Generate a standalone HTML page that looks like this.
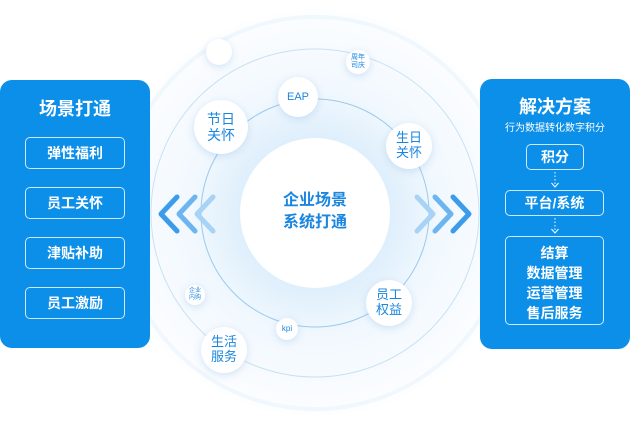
<!DOCTYPE html><html><head><meta charset="utf-8"><style>
body{margin:0;width:630px;height:428px;background:#fff;position:relative;overflow:hidden;font-family:"Liberation Sans","Noto Sans CJK SC",sans-serif}
.p{position:absolute;background:#0b8fe9;border-radius:12px;color:#fff}
.b{position:absolute;border:1px solid rgba(255,255,255,.8);border-radius:5px;color:#fff;text-align:center;font-weight:bold;font-size:14px;box-sizing:border-box}
.t{position:absolute;text-align:center;color:#1a86e0;font-weight:bold}
.c{position:absolute;border-radius:50%;background:#fff;box-shadow:0 2px 8px rgba(120,170,220,.3);display:flex;align-items:center;justify-content:center;color:#1a86e0;text-align:center;line-height:1.15}
</style></head><body>
<svg width="630" height="428" style="position:absolute;left:0;top:0">
<defs><radialGradient id="g" cx="315" cy="213" r="205" gradientUnits="userSpaceOnUse">
<stop offset="0.35" stop-color="#ddeefb"/><stop offset="0.6" stop-color="#f1f8fe"/><stop offset="0.95" stop-color="#fbfdff"/><stop offset="1" stop-color="#ffffff"/></radialGradient></defs>
<circle cx="315" cy="213" r="205" fill="url(#g)"/>
<circle cx="315" cy="213" r="196" fill="none" stroke="#f0f7fd" stroke-width="4"/>
<circle cx="315" cy="213" r="164" fill="none" stroke="#c8e1f6" stroke-width="1"/>
<circle cx="315" cy="213" r="114" fill="none" stroke="#9cc9ef" stroke-width="1"/>
<circle cx="315" cy="213" r="75" fill="#fff"/>
<g fill="none" stroke-linecap="round" stroke-linejoin="round" stroke-width="5">
<polyline points="177,197 161,214 177,231" stroke="#3a9cea"/>
<polyline points="195,197 179,214 195,231" stroke="#6db5f0"/>
<polyline points="213,197 197,214 213,231" stroke="#a9d3f6"/>
<polyline points="417,197 433,214 417,231" stroke="#a9d3f6"/>
<polyline points="435,197 451,214 435,231" stroke="#6db5f0"/>
<polyline points="453,197 469,214 453,231" stroke="#3a9cea"/>
</g></svg>
<div class="t" style="left:240px;top:190px;width:150px;font-size:16px;line-height:22px">企业场景<br>系统打通</div>
<div class="c" style="left:206px;top:39px;width:26px;height:26px"></div>
<div class="c" style="left:194px;top:100px;width:54px;height:54px;font-size:14px">节日<br>关怀</div>
<div class="c" style="left:278px;top:77px;width:40px;height:40px;font-size:11px">EAP</div>
<div class="c" style="left:346px;top:50px;width:24px;height:24px;font-size:7px">周年<br>司庆</div>
<div class="c" style="left:386px;top:123px;width:46px;height:46px;font-size:13px">生日<br>关怀</div>
<div class="c" style="left:366px;top:280px;width:46px;height:46px;font-size:13px">员工<br>权益</div>
<div class="c" style="left:276px;top:318px;width:22px;height:22px;font-size:8px">kpi</div>
<div class="c" style="left:201px;top:327px;width:46px;height:46px;font-size:13px">生活<br>服务</div>
<div class="c" style="left:185px;top:285px;width:20px;height:20px;font-size:6px">企业<br>内购</div>
<div class="p" style="left:0;top:80px;width:150px;height:268px">
<div style="position:absolute;top:15px;width:150px;text-align:center;font-size:18px;font-weight:bold">场景打通</div></div>
<div class="b" style="left:25px;top:137px;width:100px;height:32px;line-height:30px">弹性福利</div>
<div class="b" style="left:25px;top:187px;width:100px;height:32px;line-height:30px">员工关怀</div>
<div class="b" style="left:25px;top:237px;width:100px;height:32px;line-height:30px">津贴补助</div>
<div class="b" style="left:25px;top:287px;width:100px;height:32px;line-height:30px">员工激励</div>
<div class="p" style="left:480px;top:79px;width:150px;height:270px">
<div style="position:absolute;top:14px;width:150px;text-align:center;font-size:18px;font-weight:bold">解决方案</div>
<div style="position:absolute;top:40px;width:150px;text-align:center;font-size:10px">行为数据转化数字积分</div></div>
<svg width="630" height="428" style="position:absolute;left:0;top:0" fill="none" stroke="#fff" stroke-width="1">
<line x1="555" y1="172" x2="555" y2="186" stroke-dasharray="1.5 2"/>
<polyline points="551.5,183 555,187 558.5,183"/>
<line x1="555" y1="218" x2="555" y2="232" stroke-dasharray="1.5 2"/>
<polyline points="551.5,229 555,233 558.5,229"/>
</svg>
<div class="b" style="left:526px;top:144px;width:58px;height:26px;line-height:24px">积分</div>
<div class="b" style="left:505px;top:190px;width:99px;height:26px;line-height:24px">平台/系统</div>
<div class="b" style="left:505px;top:236px;width:99px;height:89px;line-height:20px;padding-top:6px">结算<br>数据管理<br>运营管理<br>售后服务</div>
</body></html>
